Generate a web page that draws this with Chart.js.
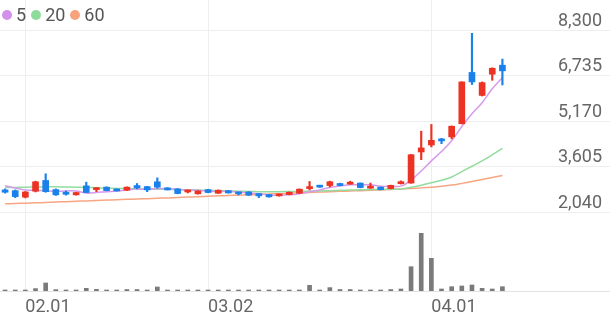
<!DOCTYPE html>
<html lang="ko">
<head>
<meta charset="UTF-8">
<title>일봉 차트</title>
<script src="https://cdn.jsdelivr.net/npm/chart.js"></script>
<style>
    * { margin: 0; padding: 0; box-sizing: border-box; }
    body { width: 610px; height: 318px; background: #fff; overflow: hidden; font-family: Roboto, sans-serif; }
    .wrap { position: relative; width: 610px; height: 318px; }
    .legend { position: absolute; left: 2px; top: 5px; display: flex; align-items: center; font-size: 18px; color: #555; line-height: 20px; }
    .legend .item { display: flex; align-items: center; margin-right: 5px; }
    .legend .dot { display: inline-block; width: 10px; height: 10px; border-radius: 50%; margin-right: 4px; }
</style>
</head>
<body>
<div class="wrap">
    <canvas id="chart" width="610" height="318"></canvas>
    <div class="legend">
        <div class="item"><span class="dot" style="background:#d28fec"></span>5</div>
        <div class="item"><span class="dot" style="background:#8fdb9c"></span>20</div>
        <div class="item"><span class="dot" style="background:#f7a47c"></span>60</div>
    </div>
</div>
<script>
const dates = ['01.28','01.29',
    '02.01','02.02','02.03','02.04','02.05','02.08','02.09','02.10','02.15','02.16',
    '02.17','02.18','02.19','02.22','02.23','02.24','02.25','02.26',
    '03.02','03.03','03.04','03.05','03.08','03.09','03.10','03.11','03.12','03.15','03.16',
    '03.17','03.18','03.19','03.22','03.23','03.24','03.25','03.26','03.29','03.30','03.31',
    '04.01','04.02','04.05','04.06','04.07','04.08','04.09','04.12'];
const xTicks = ['02.01', '03.02', '04.01'];
const priceTicks = [2040, 3605, 5170, 6735, 8300];

const open  = [2800,2775,2550,2755,3125,2810,2720,2630,2940,2810,2895,2825,2790,2950,2915,3080,2870,2835,2730,2665,
               2810,2685,2775,2710,2730,2675,2640,2595,2640,2685,2845,2950,2950,3020,3000,3035,2860,2895,2845,3015,
               3035,4105,4345,4555,4625,5075,6840,6050,6780,7090];
const high  = [2835,2800,2745,3100,3355,2835,2765,2720,3065,2870,2905,2835,2905,3020,2925,3215,2880,2845,2800,2775,
               2820,2800,2785,2715,2740,2680,2645,2660,2730,2835,3090,2960,3100,3030,3100,3040,3035,2900,2965,3110,
               4020,4820,5050,4575,5000,6520,8185,6515,7000,7300];
const low   = [2690,2535,2525,2730,2720,2610,2620,2620,2705,2740,2770,2760,2780,2835,2740,2860,2795,2665,2695,2655,
               2700,2680,2690,2630,2610,2535,2550,2585,2630,2680,2800,2885,2905,2940,2990,2870,2850,2800,2835,3000,
               3030,3840,4280,4390,4555,5070,6425,6030,6570,6410];
const close = [2720,2570,2730,3080,2740,2630,2650,2710,2710,2845,2775,2765,2895,2870,2800,2895,2800,2675,2790,2765,
               2710,2790,2695,2665,2620,2595,2560,2650,2720,2825,2915,2895,3080,2950,3055,2880,2930,2810,2955,3080,
               4010,4245,4505,4485,4990,6515,6515,6490,6985,6895];
const volume = [100,100,100,240,800,140,100,100,270,170,100,100,150,150,100,400,100,100,100,100,
                100,100,100,100,100,100,100,100,100,100,570,100,340,150,150,100,100,100,150,200,
                2430,5770,3270,200,430,500,600,270,200,430];

const ma5  = [2940,2865,2800,2790,2770,2750,2765,2760,2690,2710,2740,2760,2800,2830,2820,2845,2850,2810,2790,2785,
              2750,2745,2750,2725,2695,2670,2625,2615,2630,2670,2735,2800,2885,2930,2980,2970,2980,2925,2925,2930,
              3140,3450,3800,4120,4490,4980,5420,5800,6280,6670];
const ma20 = [2880,2885,2895,2900,2905,2905,2900,2895,2885,2875,2860,2850,2840,2835,2830,2825,2820,2810,2800,2795,
              2785,2775,2765,2755,2745,2740,2738,2740,2745,2750,2755,2765,2775,2785,2795,2805,2812,2818,2825,2830,
              2890,2960,3045,3130,3245,3430,3615,3800,4010,4230];
const ma60 = [2320,2330,2345,2355,2370,2385,2395,2410,2420,2435,2450,2460,2475,2490,2500,2515,2525,2540,2555,2565,
              2580,2595,2605,2620,2630,2645,2660,2670,2685,2700,2710,2725,2735,2750,2765,2775,2790,2800,2815,2825,
              2845,2870,2895,2925,2965,3025,3090,3155,3225,3295];

const UP = '#ec3223';
const DOWN = '#1b81ea';
const candleColor = open.map((o, i) => close[i] >= o ? UP : DOWN);

Chart.defaults.font.family = 'Roboto, sans-serif';

function maLine(label, values, color) {
    return {
        type: 'line', label: label, yAxisID: 'y', order: 5,
        data: values.map((v, i) => ({ x: i, y: v })),
        borderColor: color, borderWidth: 1.5, pointRadius: 0, tension: 0.3
    };
}

// axis labels sit inside the plot, so drop the space chart.js reserves for them
function noPad(s) {
    s.paddingTop = 0; s.paddingBottom = 0; s.paddingLeft = 0; s.paddingRight = 0;
}

const ctx = document.getElementById('chart').getContext('2d');
new Chart(ctx, {
    type: 'bar',
    data: {
        datasets: [
            {
                label: 'body', yAxisID: 'y', order: 1, grouped: false,
                data: dates.map((d, i) => ({ x: i, y: [open[i], close[i]] })),
                backgroundColor: candleColor, barThickness: 6, minBarLength: 2
            },
            {
                label: 'wick', yAxisID: 'y', order: 2, grouped: false,
                data: dates.map((d, i) => ({ x: i, y: [low[i], high[i]] })),
                backgroundColor: candleColor, barThickness: 1.5
            },
            {
                label: 'volume', yAxisID: 'yVol', order: 3, grouped: false,
                data: dates.map((d, i) => ({ x: i, y: volume[i] })),
                backgroundColor: '#7a7a7a', barThickness: 4
            },
            maLine('5', ma5, '#d59bea'),
            maLine('20', ma20, '#93dc9f'),
            maLine('60', ma60, '#f7a583')
        ]
    },
    options: {
        responsive: false,
        animation: false,
        layout: { padding: 0 },
        plugins: { legend: { display: false }, tooltip: { enabled: false } },
        scales: {
            x: {
                type: 'linear', min: -0.5, max: 59.6, offset: false,
                afterBuildTicks: s => { s.ticks = xTicks.map(t => ({ value: dates.indexOf(t) })); },
                afterFit: s => { s.height = 27; noPad(s); },
                grid: { color: '#eeeeee', drawTicks: false, offset: false },
                border: { color: '#e2e2e2' },
                ticks: {
                    align: 'start', padding: 6, color: '#666', font: { size: 18 },
                    maxRotation: 0, callback: v => dates[v]
                }
            },
            y: {
                position: 'right', min: -677, max: 9332,
                afterBuildTicks: s => { s.ticks = priceTicks.map(v => ({ value: v })); },
                afterFit: s => { s.width = 0; noPad(s); },
                grid: { color: '#eeeeee', drawTicks: false },
                border: { display: false },
                ticks: {
                    mirror: true, align: 'end', padding: -8, color: '#666', font: { size: 18 },
                    callback: v => v.toLocaleString('en-US')
                }
            },
            yVol: {
                position: 'right', display: false, min: 0, max: 29100
            }
        }
    }
});
</script>
</body>
</html>
